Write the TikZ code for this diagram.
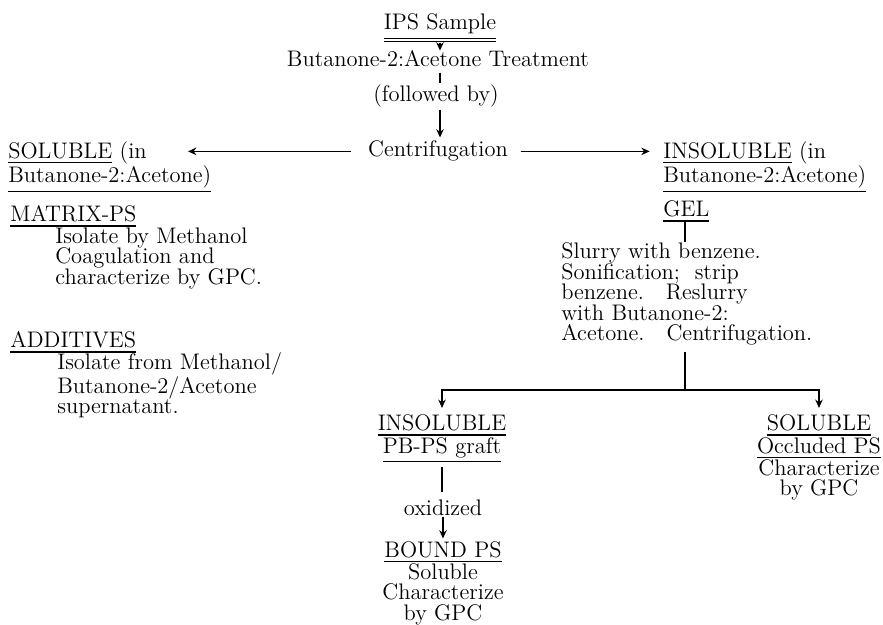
\documentclass[tikz,border=0pt]{standalone}
\usetikzlibrary{arrows.meta}

\newcommand{\chartfont}{\fontsize{13.5}{12.3}\selectfont}
\newcommand{\undl}[1]{\vtop{\hbox{#1}\kern1.8pt\hrule height 0.8pt}}
\newcommand{\dundl}[1]{\vtop{\hbox{#1}\kern2pt\hrule height 0.8pt\kern1.2pt\hrule height 0.8pt}}

\begin{document}
\begin{tikzpicture}[x=0.6pt,y=-0.6pt,
    every node/.style={font=\chartfont,inner sep=0pt},
    lblock/.style={align=left,anchor=north west},
    cblock/.style={align=center,anchor=north},
    link/.style={line width=1pt},
    flow/.style={line width=1pt,-{Stealth[length=5pt,width=4.5pt]}}]
  \useasboundingbox (0,0) rectangle (883,625);

  % main column
  \node[anchor=base] (ips) at (440,30) {\dundl{IPS Sample}};
  \node[anchor=base] (treat) at (438,67) {Butanone-2:Acetone Treatment};
  \node[anchor=base] (follow) at (436,102) {(followed by)};
  \node[anchor=base] (cent) at (438,157) {Centrifugation};

  % left side
  \node[lblock] (sol) at (8,141) {\undl{SOLUBLE} (in\\\undl{Butanone-2:Acetone)}};
  \coordinate (soltip) at (188,152);
  \node[anchor=base west] (matrix) at (10,222) {\undl{MATRIX-PS}};
  \node[lblock] (mtxt) at (55,227.4) {Isolate by Methanol\\Coagulation and\\characterize by GPC.};
  \node[anchor=base west] (addi) at (10,348) {\undl{ADDITIVES}};
  \node[lblock] (atxt) at (57,352) {Isolate from Methanol/\\Butanone-2/Acetone\\supernatant.};

  % right side
  \node[lblock] (insol) at (663,141) {\undl{INSOLUBLE} (in\\\undl{Butanone-2:Acetone)}};
  \node[anchor=base west] (gel) at (663,217) {\undl{GEL}};
  \node[lblock] (slurry) at (561,242.4) {Slurry with benzene.\\Sonification;\ \ strip\\benzene.\ \ \ Reslurry\\with Butanone-2:\\Acetone.\ \ \ Centrifugation.};
  \coordinate (split) at (685,390);

  % bottom
  \node[cblock] (ins2) at (442,414.6) {\undl{INSOLUBLE}\\\undl{PB-PS graft}};
  \node[anchor=base] (oxi) at (443,516) {oxidized};
  \node[cblock] (bound) at (443,541) {\undl{BOUND PS}\\Soluble\\Characterize\\by GPC};
  \node[cblock] (sol2) at (819,414.6) {\undl{SOLUBLE}\\\undl{Occluded PS}\\Characterize\\by GPC};

  \draw[flow] (ips.south) -- (ips.south |- treat.north);
  \draw[link,shorten <=3pt,shorten >=1pt] (ips.south |- treat.south) -- (ips.south |- follow.north);
  \draw[flow,shorten <=1pt,shorten >=2pt] (ips.south |- follow.south) -- (ips.south |- cent.north);
  \draw[flow,shorten <=10pt] (cent.west) -- (cent.west -| soltip);
  \draw[flow,shorten <=7.5pt,shorten >=8pt] (cent.east) -- (cent.east -| insol.west);

  \draw[link] (gel.south -| split) -- (split |- slurry.north);
  \draw[link,shorten <=4pt] (split |- slurry.south) -- (split);
  \draw[flow,shorten >=4pt] (split) -| (ins2.north);
  \draw[flow,shorten >=4pt] (split) -| (sol2.north);

  \draw[link,shorten <=2.5pt,shorten >=5pt] (ins2.south) -- (ins2.south |- oxi.north);
  \draw[flow,shorten >=1.5pt] (oxi.south) -- (oxi.south |- bound.north);
\end{tikzpicture}
\end{document}
